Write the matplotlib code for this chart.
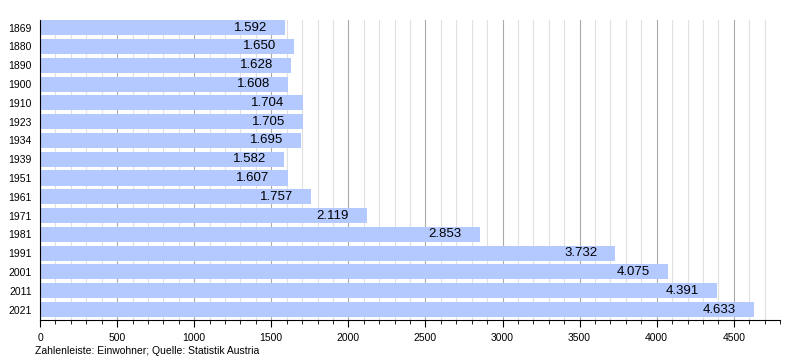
import matplotlib
matplotlib.use('Agg')
import matplotlib.pyplot as plt
from matplotlib.ticker import MultipleLocator

plt.rcParams['font.family'] = ['Liberation Sans', 'DejaVu Sans']

years = ['1869', '1880', '1890', '1900', '1910', '1923', '1934', '1939',
         '1951', '1961', '1971', '1981', '1991', '2001', '2011', '2021']
population = [1592, 1650, 1628, 1608, 1704, 1705, 1695, 1582,
              1607, 1757, 2119, 2853, 3732, 4075, 4391, 4633]

fig = plt.figure(figsize=(8, 3.6), dpi=100)
ax = fig.add_axes([0.05, 0.111, 0.925, 0.833])

pos = list(range(len(years)))
ax.barh(pos, population, height=0.8, color='#b3c9ff', zorder=2)

for p, v in zip(pos, population):
    label = '{:,}'.format(v).replace(',', '.')
    ax.annotate(label, (v, p), xytext=(-13, 0), textcoords='offset points',
                ha='right', va='center', fontsize=9.5, color='black', zorder=3)

ax.set_xlim(0, 4800)
ax.set_ylim(15.56, -0.4)
ax.set_yticks(pos)
ax.set_yticklabels(years, fontsize=7.5)
ax.tick_params(axis='y', length=0, pad=6)

ax.xaxis.set_major_locator(MultipleLocator(500))
ax.xaxis.set_minor_locator(MultipleLocator(100))
ax.tick_params(axis='x', which='major', length=5, labelsize=7.5, pad=4, colors='black')
ax.tick_params(axis='x', which='minor', length=3)
ax.grid(axis='x', which='major', color='#aaaaaa', linewidth=0.8, zorder=0)
ax.grid(axis='x', which='minor', color='#e0e0e0', linewidth=0.8, zorder=0)
ax.grid(axis='y', visible=False)
ax.set_axisbelow(True)

for s in ['top', 'right']:
    ax.spines[s].set_visible(False)
ax.spines['left'].set_color('black')
ax.spines['bottom'].set_color('black')

fig.text(0.044, 0.018, 'Zahlenleiste: Einwohner; Quelle: Statistik Austria', fontsize=7.5)

fig.savefig('out.png', dpi=100)
